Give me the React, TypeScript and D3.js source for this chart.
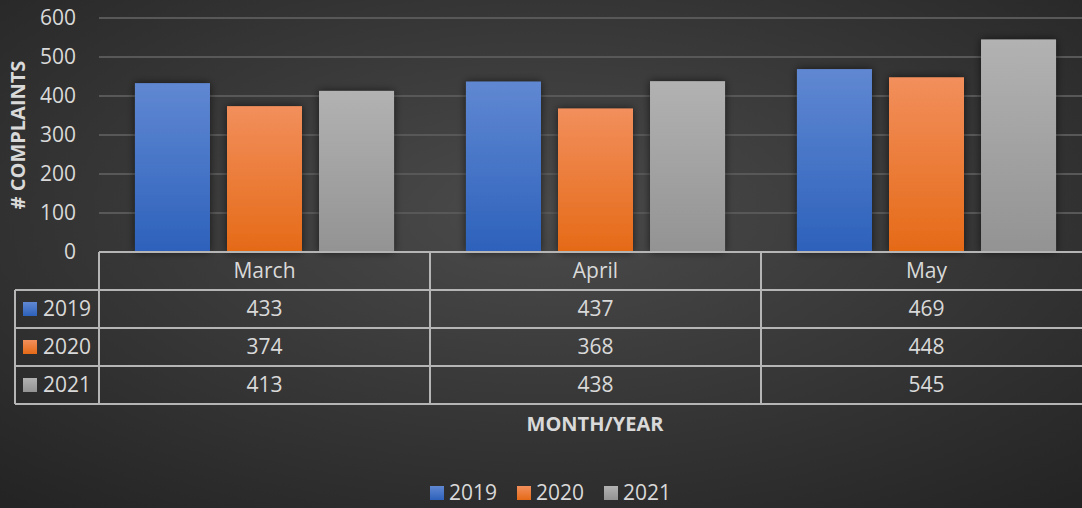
import React from "react";
import * as d3 from "d3";

const categories = ["March", "April", "May"];
const series = ["2019", "2020", "2021"];
const values2019 = [433, 437, 469];
const values2020 = [374, 368, 448];
const values2021 = [413, 438, 545];
const yTicks = [0, 100, 200, 300, 400, 500, 600];

const W = 1082;
const H = 508;
const FONT = "'Open Sans', 'Liberation Sans', sans-serif";

export default function App() {
  const data = [values2019, values2020, values2021];
  const colors = [
    ["#6088d2", "#2d61bb"],
    ["#f28f5c", "#e56a17"],
    ["#b2b2b2", "#939393"],
  ];
  const plotLeft = 99;
  const plotRight = 1092;
  const x0 = d3.scaleBand().domain(categories).range([plotLeft, plotRight]);
  const x1 = d3.scaleBand().domain(series).range([0, x0.bandwidth()]).paddingInner(0.185).paddingOuter(0.391);
  const y = d3.scaleLinear().domain([0, 600]).range([252, 18]);
  const rowH = 38;
  const tableTop = 252;
  const tableLeft = 15;
  const textColor = "#d9d9d9";
  const lineColor = "#b5b5b5";
  const fs = 21;

  return (
    <svg width={W} height={H} style={{ position: "absolute", left: 0, top: 0 }} fontFamily={FONT}>
      <defs>
        <radialGradient id="bg" cx="50%" cy="42%" r="75%">
          <stop offset="0%" stopColor="#4b4b4b" />
          <stop offset="100%" stopColor="#242424" />
        </radialGradient>
        {colors.map((c, i) => (
          <linearGradient key={i} id={`g${i}`} x1="0" y1="0" x2="0" y2="1">
            <stop offset="0%" stopColor={c[0]} />
            <stop offset="100%" stopColor={c[1]} />
          </linearGradient>
        ))}
        <filter id="shadow" x="-30%" y="-10%" width="160%" height="130%">
          <feGaussianBlur in="SourceAlpha" stdDeviation="4" />
          <feComponentTransfer>
            <feFuncA type="linear" slope="0.6" />
          </feComponentTransfer>
          <feMerge>
            <feMergeNode />
            <feMergeNode in="SourceGraphic" />
          </feMerge>
        </filter>
      </defs>
      <rect x={0} y={0} width={W} height={H} fill="url(#bg)" />
      {yTicks.slice(1).map((t) => (
        <line key={t} x1={plotLeft} x2={W} y1={y(t)} y2={y(t)} stroke="#585858" strokeWidth={2} />
      ))}
      {yTicks.map((t) => (
        <text key={t} x={76} y={y(t)} dy="0.35em" textAnchor="end" fill={textColor} fontSize={fs}>
          {t}
        </text>
      ))}
      <text
        transform={`translate(25,135) rotate(-90)`}
        textAnchor="middle"
        fill={textColor}
        fontSize={20}
        fontWeight="bold"
      >
        # COMPLAINTS
      </text>
      {categories.map((c, ci) => (
        <g key={c} transform={`translate(${x0(c)},0)`}>
          {series.map((s, si) => (
            <rect
              key={s}
              x={x1(s)}
              y={y(data[si][ci])}
              width={x1.bandwidth()}
              height={y(0) - y(data[si][ci])}
              fill={`url(#g${si})`}
              filter="url(#shadow)"
            />
          ))}
        </g>
      ))}
      <g stroke={lineColor} strokeWidth={2} fill="none">
        <line x1={plotLeft} x2={W} y1={tableTop} y2={tableTop} />
        {[1, 2, 3, 4].map((r) => (
          <line key={r} x1={tableLeft} x2={W} y1={tableTop + r * rowH} y2={tableTop + r * rowH} />
        ))}
        <line x1={plotLeft} x2={plotLeft} y1={tableTop} y2={tableTop + 4 * rowH} />
        <line x1={tableLeft} x2={tableLeft} y1={tableTop + rowH} y2={tableTop + 4 * rowH} />
        {categories.slice(1).map((c) => (
          <line key={c} x1={x0(c)} x2={x0(c)} y1={tableTop} y2={tableTop + 4 * rowH} />
        ))}
      </g>
      {categories.map((c) => (
        <text
          key={c}
          x={(x0(c) as number) + x0.bandwidth() / 2}
          y={tableTop + rowH / 2}
          dy="0.35em"
          textAnchor="middle"
          fill={textColor}
          fontSize={fs}
        >
          {c}
        </text>
      ))}
      {series.map((s, si) => (
        <g key={s}>
          <rect x={23} y={tableTop + (si + 1) * rowH + 12} width={14} height={14} fill={`url(#g${si})`} />
          <text x={43} y={tableTop + (si + 1.5) * rowH} dy="0.35em" fill={textColor} fontSize={fs}>
            {s}
          </text>
          {categories.map((c, ci) => (
            <text
              key={c}
              x={(x0(c) as number) + x0.bandwidth() / 2}
              y={tableTop + (si + 1.5) * rowH}
              dy="0.35em"
              textAnchor="middle"
              fill={textColor}
              fontSize={fs}
            >
              {data[si][ci]}
            </text>
          ))}
        </g>
      ))}
      <text x={595} y={424} dy="0.35em" textAnchor="middle" fill={textColor} fontSize={20} fontWeight="bold">
        MONTH/YEAR
      </text>
      {series.map((s, si) => {
        const lx = 430 + si * 87;
        return (
          <g key={s}>
            <rect x={lx} y={486} width={14} height={14} fill={`url(#g${si})`} />
            <text x={lx + 19} y={493} dy="0.35em" fill={textColor} fontSize={fs}>
              {s}
            </text>
          </g>
        );
      })}
    </svg>
  );
}
